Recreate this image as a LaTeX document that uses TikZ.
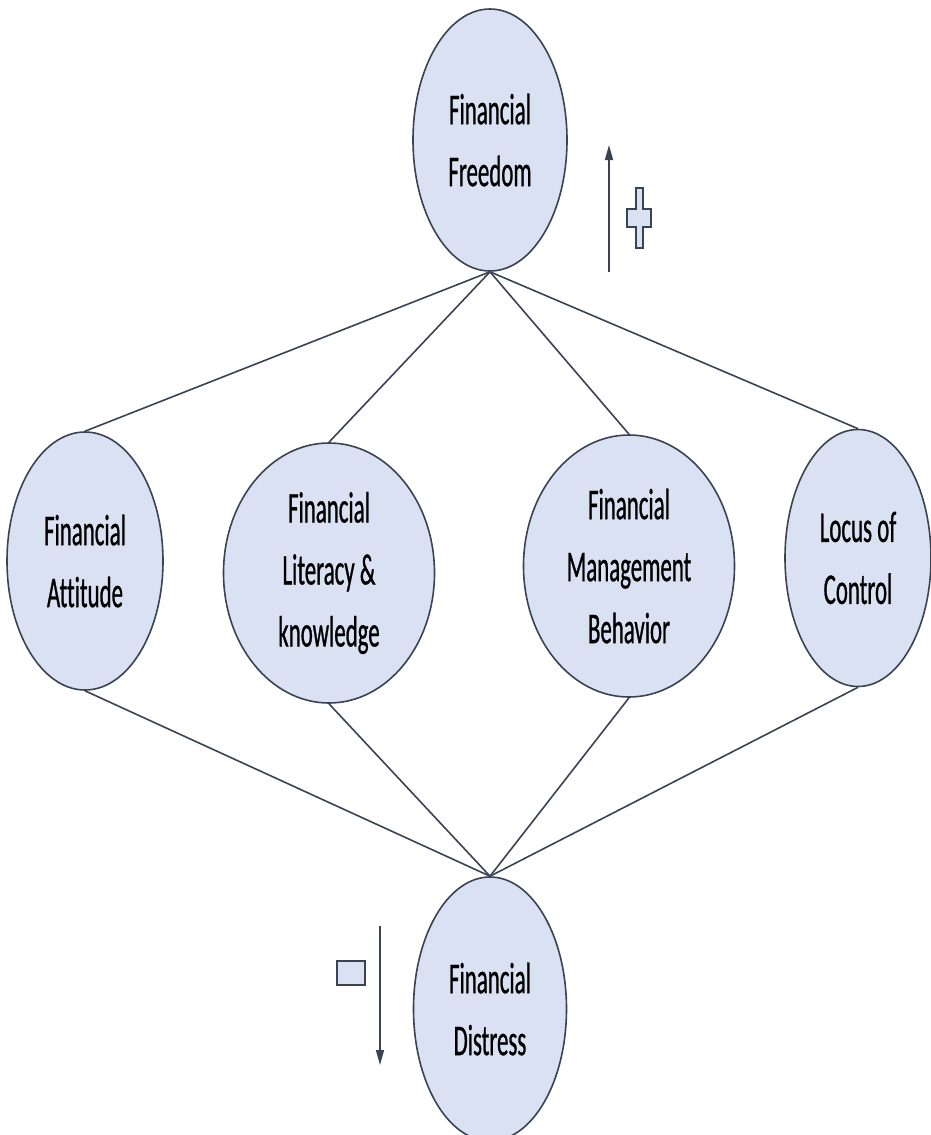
\documentclass[tikz,border=0pt]{standalone}
\usepackage{fontspec}
\setmainfont{Carlito}[FakeStretch=0.52, FakeBold=0.6, Ligatures=NoCommon]
\usepackage{xcolor}
\usetikzlibrary{shapes.geometric, arrows.meta, positioning}

\definecolor{bubblefill}{HTML}{D9E1F2}
\definecolor{edgegray}{HTML}{3A4352}

\begin{document}
\begin{tikzpicture}[
    x=1pt, y=-1pt,
    bubble/.style={ellipse, draw=edgegray, line width=1.6pt, fill=bubblefill, inner sep=0pt, align=center,
        font=\fontsize{44}{62}\selectfont},
    link/.style={edgegray, line width=1.6pt},
    arrow/.style={-{Triangle[length=15pt, width=8pt]}, edgegray, line width=1.6pt},
    sign/.style={draw=edgegray, line width=1.8pt, fill=bubblefill}
]
\useasboundingbox (0,0) rectangle (931,1135);
\clip (0,0) rectangle (931,1135);

% Nodes
\node[bubble, minimum width=154pt, minimum height=262pt] (freedom) at (490,140) {Financial\\Freedom};

\node[bubble, minimum width=156pt, minimum height=258pt] (attitude) at (85,561) {Financial\\Attitude};
\node[bubble, minimum width=211pt, minimum height=260pt] (literacy) at (329,573) {Financial\\Literacy \&\\knowledge};
\node[bubble, minimum width=211pt, minimum height=262pt] (behavior) at (629,566) {Financial\\Management\\Behavior};
\node[bubble, minimum width=146pt, minimum height=257pt] (locus) at (858,558) {Locus of\\Control};

\node[bubble, minimum width=153pt, minimum height=264pt] (distress) at (490,1009) {Financial\\Distress};

% Links
\foreach \n in {attitude, literacy, behavior, locus} {
    \draw[link] (freedom.south) -- (\n.north);
    \draw[link] (\n.south) -- (distress.north);
}

% Direction arrows
\coordinate (upfrom) at (609,272);
\coordinate (upto) at (609,145);
\coordinate (downfrom) at (380,926);
\coordinate (downto) at (380,1065);
\draw[arrow] (upfrom) -- (upto);
\draw[arrow] (downfrom) -- (downto);

% Plus and minus
\draw[sign] (636,188) -- (643,188) -- (643,209) -- (651,209) -- (651,227) -- (643,227)
    -- (643,248) -- (636,248) -- (636,227) -- (627,227) -- (627,209) -- (636,209) -- cycle;
\draw[sign] (337,961) rectangle (365,985);

\end{tikzpicture}
\end{document}
